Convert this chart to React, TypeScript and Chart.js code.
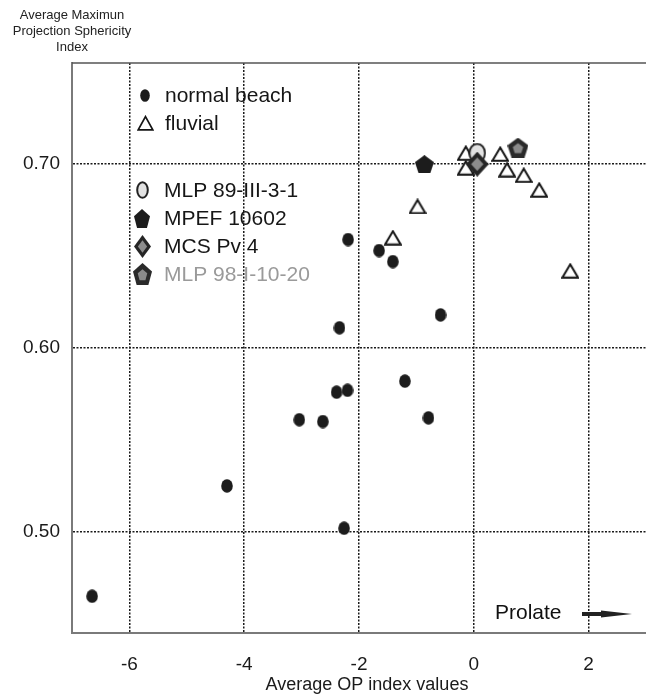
import React, { useEffect, useRef } from "react";
import { Chart, registerables } from "chart.js";
Chart.register(...registerables);

// ---------- data ----------
const X_TICKS = [-6, -4, -2, 0, 2];
const Y_TICKS = [0.5, 0.6, 0.7];
const X_MIN = -7;
const X_MAX = 3;
const Y_MIN = 0.445;
const Y_MAX = 0.755;

const beachX = [-2.19, -1.65, -1.41, -0.58, -2.34, -1.2, -2.39, -2.2, -3.04, -2.63, -0.79, -4.3, -2.26, -6.65];
const beachY = [0.659, 0.653, 0.647, 0.618, 0.611, 0.582, 0.576, 0.577, 0.561, 0.56, 0.562, 0.525, 0.502, 0.465];

const fluvialX = [-0.14, -0.14, 0.46, 0.58, 0.87, 1.14, -0.98, -1.41, 1.68];
const fluvialY = [0.706, 0.698, 0.7055, 0.697, 0.694, 0.686, 0.677, 0.66, 0.642];

const mlp89X = [0.06];
const mlp89Y = [0.706];
const mpefX = [-0.86];
const mpefY = [0.7];
const mcsX = [0.06];
const mcsY = [0.7];
const mlp98X = [0.77];
const mlp98Y = [0.709];

const SERIES_LABELS = ["normal beach", "fluvial", "MLP 89-III-3-1", "MPEF 10602", "MCS Pv 4", "MLP 98-I-10-20"];
const Y_TITLE = ["Average Maximun", "Projection Sphericity", "Index"];
const X_TITLE = "Average OP index values";
const NOTE = "Prolate";

const FONT = "'Liberation Sans', Arial, Helvetica, sans-serif";

// ---------- marker factories ----------
type Pt = [number, number];
function mk(w: number, h: number, draw: (ctx: CanvasRenderingContext2D, w: number, h: number) => void) {
  const c = document.createElement("canvas");
  c.width = w;
  c.height = h;
  const ctx = c.getContext("2d") as CanvasRenderingContext2D;
  draw(ctx, w, h);
  return c;
}
function poly(ctx: CanvasRenderingContext2D, pts: Pt[]) {
  ctx.beginPath();
  pts.forEach((p, i) => (i ? ctx.lineTo(p[0], p[1]) : ctx.moveTo(p[0], p[1])));
  ctx.closePath();
}
function pentPts(w: number, h: number, s: number): Pt[] {
  const pts: Pt[] = [];
  const rx = (w / 1.902) * s;
  const ry = (h / 1.809) * s;
  const cx = w / 2;
  const cy = h / 2 + ((h * s) * (1 - 0.809)) / 2 / 1.809;
  for (let k = 0; k < 5; k++) {
    const a = -Math.PI / 2 + (k * 2 * Math.PI) / 5;
    pts.push([cx + rx * Math.cos(a), cy + ry * Math.sin(a)]);
  }
  return pts;
}
const ellipse = (w: number, h: number, fill: string, stroke: string | null, lw: number) =>
  mk(w, h, (ctx) => {
    ctx.beginPath();
    ctx.ellipse(w / 2, h / 2, w / 2 - lw / 2 - 0.2, h / 2 - lw / 2 - 0.2, 0, 0, Math.PI * 2);
    ctx.fillStyle = fill;
    ctx.fill();
    if (stroke) {
      ctx.lineWidth = lw;
      ctx.strokeStyle = stroke;
      ctx.stroke();
    }
  });
const triangle = (w: number, h: number, lw: number) =>
  mk(w, h, (ctx) => {
    poly(ctx, [[w / 2, 1.6], [w - 1.2, h - 1.2], [1.2, h - 1.2]]);
    ctx.fillStyle = "#ffffff";
    ctx.fill();
    ctx.lineWidth = lw;
    ctx.lineJoin = "miter";
    ctx.strokeStyle = "#151515";
    ctx.stroke();
  });
const pentagon = (w: number, h: number, outer: string, inner: string | null) =>
  mk(w, h, (ctx) => {
    poly(ctx, pentPts(w, h, 1));
    ctx.fillStyle = outer;
    ctx.fill();
    if (inner) {
      const pts = pentPts(w, h, 0.5).map(([x, y]) => [x, y + h * 0.03] as Pt);
      poly(ctx, pts);
      ctx.fillStyle = inner;
      ctx.fill();
    }
  });
const diamond = (w: number, h: number) =>
  mk(w, h, (ctx) => {
    poly(ctx, [[w / 2, 0], [w, h / 2], [w / 2, h], [0, h / 2]]);
    ctx.fillStyle = "#252525";
    ctx.fill();
    const iw = w * 0.27;
    const ih = h * 0.27;
    poly(ctx, [[w / 2, h / 2 - ih], [w / 2 + iw, h / 2], [w / 2, h / 2 + ih], [w / 2 - iw, h / 2]]);
    ctx.fillStyle = "#8c8c8c";
    ctx.fill();
  });

export default function App() {
  const ref = useRef<HTMLCanvasElement | null>(null);

  useEffect(() => {
    const canvas = ref.current;
    if (!canvas) return;

    const mBeach = ellipse(12, 14, "#1c1c1c", null, 0);
    const mFluv = triangle(18, 16, 2);
    const mMlp89 = ellipse(18, 21, "#e2e2e2", "#222222", 2);
    const mMpef = pentagon(19, 18, "#1c1c1c", null);
    const mMcs = diamond(23, 25);
    const mMlp98 = pentagon(21, 20, "#2a2a2a", "#8a8a8a");

    const lBeach = ellipse(10, 13, "#1c1c1c", null, 0);
    const lFluv = triangle(17, 16, 1.7);
    const lMlp89 = ellipse(13, 18, "#e2e2e2", "#222222", 2);
    const lMpef = pentagon(16, 19, "#1c1c1c", null);
    const lMcs = diamond(17, 23);
    const lMlp98 = pentagon(19, 22, "#2a2a2a", "#8a8a8a");

    const mkds = (label: string, xs: number[], ys: number[], style: HTMLCanvasElement, order: number) => ({
      label,
      data: xs.map((x, i) => ({ x, y: ys[i] })),
      pointStyle: style,
      pointRadius: 9,
      pointHoverRadius: 9,
      showLine: false,
      order,
    });

    const legendItems = [
      { m: lBeach, x: 145, y: 95, tx: 165, color: "#161616" },
      { m: lFluv, x: 145, y: 123, tx: 165, color: "#161616" },
      { m: lMlp89, x: 142, y: 190, tx: 164, color: "#161616" },
      { m: lMpef, x: 142, y: 218, tx: 164, color: "#161616" },
      { m: lMcs, x: 142, y: 246, tx: 164, color: "#161616" },
      { m: lMlp98, x: 142, y: 274, tx: 164, color: "#9a9a9a" },
    ];

    const decor = {
      id: "decor",
      beforeDraw(chart: any) {
        const { ctx } = chart;
        ctx.save();
        ctx.fillStyle = "#ffffff";
        ctx.fillRect(0, 0, chart.width, chart.height);
        ctx.restore();
      },
      afterDraw(chart: any) {
        const { ctx, chartArea } = chart;
        ctx.save();
        // top frame line
        ctx.strokeStyle = "#555555";
        ctx.lineWidth = 1.5;
        ctx.beginPath();
        ctx.moveTo(chartArea.left, chartArea.top);
        ctx.lineTo(chartArea.right, chartArea.top);
        ctx.stroke();

        // legend
        ctx.textBaseline = "middle";
        ctx.textAlign = "left";
        ctx.font = `21px ${FONT}`;
        legendItems.forEach((it, i) => {
          ctx.drawImage(it.m, Math.round(it.x - it.m.width / 2), Math.round(it.y - it.m.height / 2));
          ctx.fillStyle = it.color;
          ctx.fillText(SERIES_LABELS[i], it.tx, it.y + 1);
        });

        // y title (top-left)
        ctx.font = `13px ${FONT}`;
        ctx.fillStyle = "#222222";
        ctx.textAlign = "center";
        Y_TITLE.forEach((t, i) => ctx.fillText(t, 72, 15 + i * 16));

        // x title
        ctx.font = `18px ${FONT}`;
        ctx.fillStyle = "#1a1a1a";
        ctx.fillText(X_TITLE, 367, 685);

        // Prolate note + arrow
        ctx.textAlign = "left";
        ctx.font = `21px ${FONT}`;
        ctx.fillStyle = "#111111";
        ctx.fillText(NOTE, 495, 613);
        ctx.fillStyle = "#222222";
        ctx.fillRect(582, 612, 22, 4);
        poly(ctx, [[601, 610.5], [632, 614], [601, 617.5]]);
        ctx.fill();
        ctx.restore();
      },
    };

    const chart = new Chart(canvas, {
      type: "scatter",
      data: {
        datasets: [
          mkds(SERIES_LABELS[0], beachX, beachY, mBeach, 6),
          mkds(SERIES_LABELS[1], fluvialX, fluvialY, mFluv, 5),
          mkds(SERIES_LABELS[2], mlp89X, mlp89Y, mMlp89, 4),
          mkds(SERIES_LABELS[3], mpefX, mpefY, mMpef, 3),
          mkds(SERIES_LABELS[4], mcsX, mcsY, mMcs, 2),
          mkds(SERIES_LABELS[5], mlp98X, mlp98Y, mMlp98, 1),
        ] as any,
      },
      options: {
        responsive: false,
        maintainAspectRatio: false,
        animation: false,
        layout: { autoPadding: false, padding: { top: 63, right: 0, left: 0, bottom: 0 } },
        plugins: {
          legend: { display: false },
          tooltip: { enabled: false },
          title: { display: false },
        },
        scales: {
          x: {
            type: "linear",
            min: X_MIN,
            max: X_MAX,
            afterBuildTicks: (s: any) => {
              s.ticks = X_TICKS.map((v) => ({ value: v }));
            },
            afterFit: (s: any) => {
              s.height = 62;
              s.paddingLeft = 0;
              s.paddingRight = 0;
            },
            grid: { color: "#1a1a1a", lineWidth: 1.5, drawTicks: false },
            border: { display: true, color: "#7a7a7a", width: 2, dash: [2, 1.5] },
            ticks: {
              color: "#1a1a1a",
              font: { family: FONT, size: 19 },
              padding: 20,
              maxRotation: 0,
              callback: (v: any) => String(v),
            },
          },
          y: {
            type: "linear",
            min: Y_MIN,
            max: Y_MAX,
            afterBuildTicks: (s: any) => {
              s.ticks = Y_TICKS.map((v) => ({ value: v }));
            },
            afterFit: (s: any) => {
              s.width = 72;
              s.paddingTop = 0;
              s.paddingBottom = 0;
            },
            grid: { color: "#1a1a1a", lineWidth: 1.5, drawTicks: false },
            border: { display: true, color: "#7a7a7a", width: 2, dash: [2, 1.5] },
            ticks: {
              color: "#1a1a1a",
              font: { family: FONT, size: 19 },
              padding: 12,
              callback: (v: any) => Number(v).toFixed(2),
            },
          },
        },
      } as any,
      plugins: [decor],
    });

    return () => chart.destroy();
  }, []);

  return (
    <div style={{ position: "absolute", left: 0, top: 0, width: 646, height: 695, background: "#fff" }}>
      <canvas ref={ref} width={646} height={695} style={{ display: "block", width: 646, height: 695 }} />
    </div>
  );
}
